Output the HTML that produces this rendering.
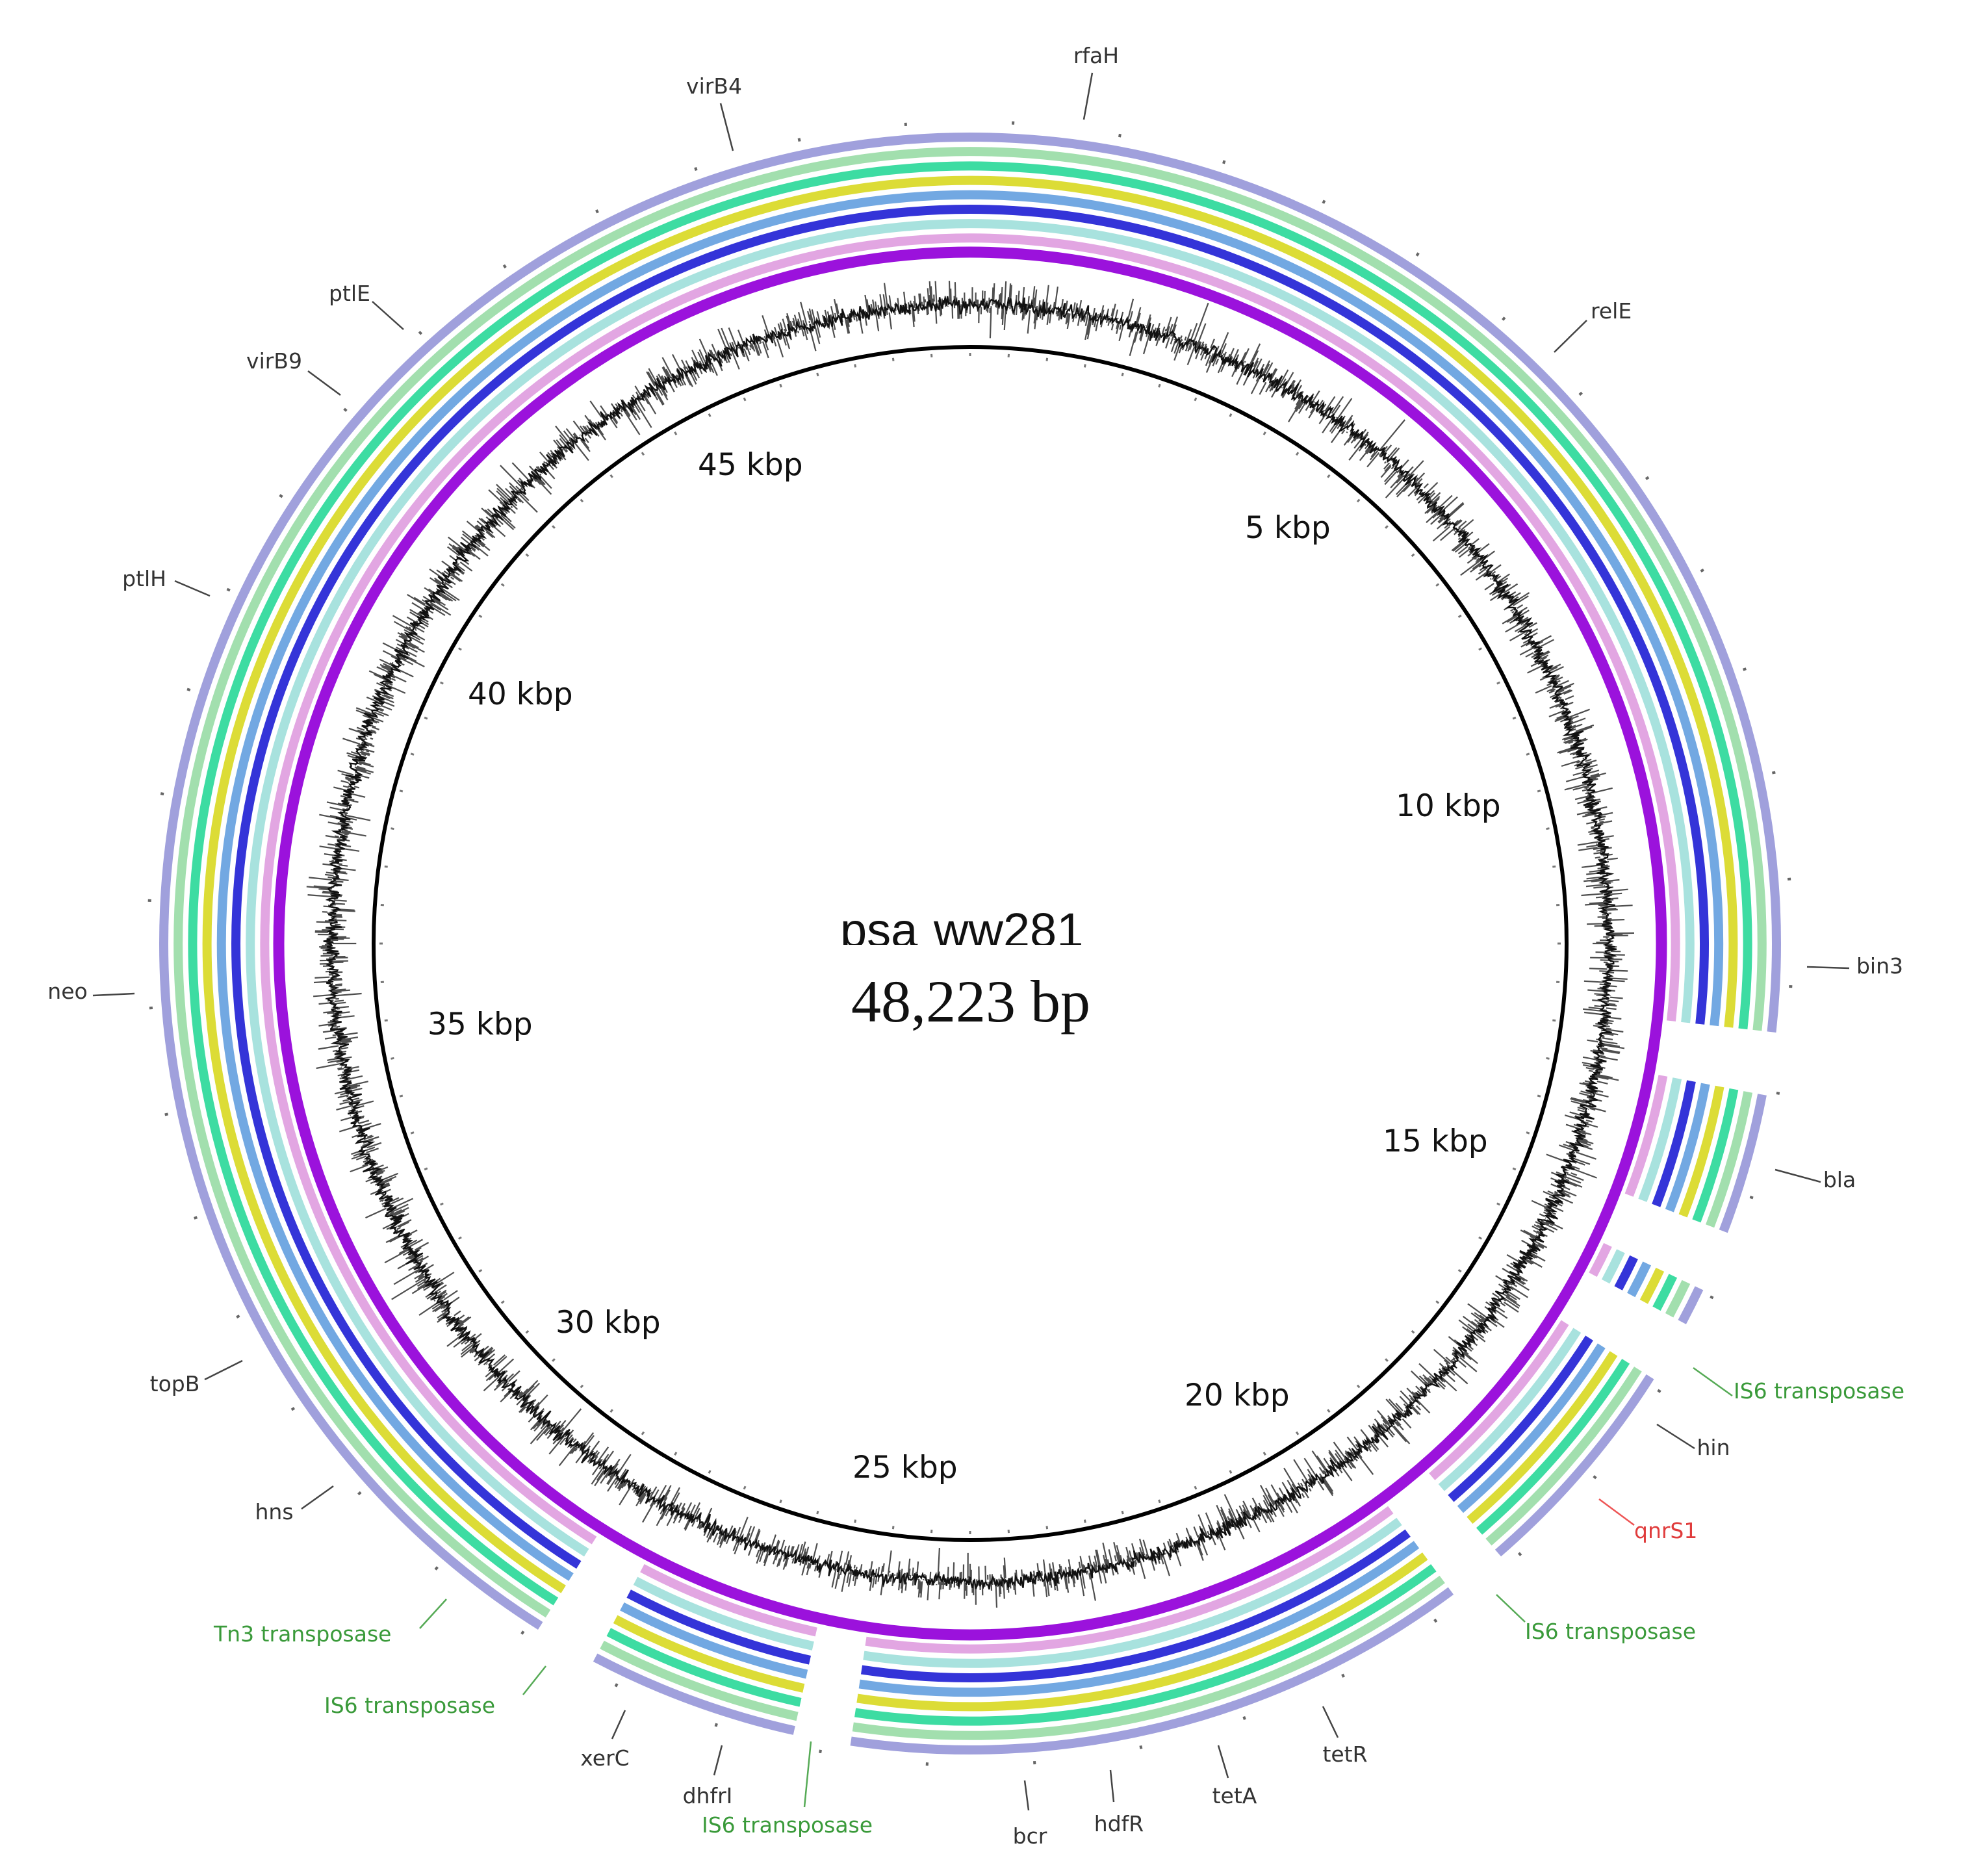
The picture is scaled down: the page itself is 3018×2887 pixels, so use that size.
<!DOCTYPE html>
<html><head><meta charset="utf-8"><style>
html,body{margin:0;padding:0;background:#fff;}
svg{display:block}
.l{font-family:"DejaVu Sans","Liberation Sans",sans-serif;font-size:33px;fill:#333}
.g{fill:#3a9a3a}
.k{font-family:"DejaVu Sans","Liberation Sans",sans-serif;font-size:47px;fill:#111}
.ln{stroke:#444;stroke-width:2.5;fill:none}
</style></head><body>
<svg id="s" width="3018" height="2887" viewBox="0 0 3018 2887" xmlns="http://www.w3.org/2000/svg">
<defs><clipPath id="cp"><rect x="1200" y="1380" width="600" height="74"/></clipPath></defs>
<g id="rings"></g>
<g id="gc"></g>
<circle cx="1493" cy="1452" r="918" fill="none" stroke="#000" stroke-width="6"/>
<g id="ticks"></g>
<g clip-path="url(#cp)" style="font-family:'Liberation Sans',sans-serif;font-size:74px;fill:#111">
<text x="1293" y="1457">psa</text>
<text x="1437" y="1457">ww281</text>
</g>
<text x="1494" y="1572" text-anchor="middle" style="font-family:'Liberation Serif',serif;font-size:92px;fill:#111">48,223 bp</text>
<text class="k" x="1074" y="731">45 kbp</text>
<text class="k" x="1916" y="828">5 kbp</text>
<text class="k" x="720" y="1084">40 kbp</text>
<text class="k" x="2148" y="1256">10 kbp</text>
<text class="k" x="658" y="1592">35 kbp</text>
<text class="k" x="2128" y="1772">15 kbp</text>
<text class="k" x="855" y="2051">30 kbp</text>
<text class="k" x="1823" y="2163">20 kbp</text>
<text class="k" x="1312" y="2274">25 kbp</text>
<line class="ln" x1="1681" y1="112" x2="1668" y2="184"/><text class="l" x="1687" y="97" text-anchor="middle">rfaH</text>
<line class="ln" x1="1109" y1="159" x2="1128" y2="232"/><text class="l" x="1099" y="144" text-anchor="middle">virB4</text>
<line class="ln" x1="2442" y1="493" x2="2392" y2="542"/><text class="l" x="2448" y="490">relE</text>
<line class="ln" x1="573" y1="464" x2="621" y2="507"/><text class="l" x="538" y="463" text-anchor="middle">ptlE</text>
<line class="ln" x1="474" y1="571" x2="524" y2="608"/><text class="l" x="422" y="567" text-anchor="middle">virB9</text>
<line class="ln" x1="269" y1="894" x2="323" y2="917"/><text class="l" x="222" y="902" text-anchor="middle">ptlH</text>
<line class="ln" x1="143" y1="1532" x2="207" y2="1529"/><text class="l" x="104" y="1537" text-anchor="middle">neo</text>
<line class="ln" x1="2781" y1="1488" x2="2846" y2="1490"/><text class="l" x="2893" y="1498" text-anchor="middle">bin3</text>
<line class="ln" x1="2732" y1="1800" x2="2802" y2="1819"/><text class="l" x="2831" y="1827" text-anchor="middle">bla</text>
<line class="ln" x1="2606" y1="2105" x2="2666" y2="2148" style="stroke:#5a5"/><text class="l g" x="2668" y="2152">IS6 transposase</text>
<line class="ln" x1="2550" y1="2192" x2="2608" y2="2229"/><text class="l" x="2637" y="2239" text-anchor="middle">hin</text>
<line class="ln" x1="2461" y1="2307" x2="2515" y2="2347" style="stroke:#e55"/><text class="l" x="2515" y="2367" style="fill:#e03c3c">qnrS1</text>
<line class="ln" x1="2303" y1="2454" x2="2347" y2="2496" style="stroke:#5a5"/><text class="l g" x="2347" y="2522">IS6 transposase</text>
<line class="ln" x1="2036" y1="2626" x2="2059" y2="2674"/><text class="l" x="2070" y="2711" text-anchor="middle">tetR</text>
<line class="ln" x1="1875" y1="2686" x2="1890" y2="2736"/><text class="l" x="1900" y="2775" text-anchor="middle">tetA</text>
<line class="ln" x1="1709" y1="2724" x2="1714" y2="2773"/><text class="l" x="1722" y="2818" text-anchor="middle">hdfR</text>
<line class="ln" x1="1577" y1="2740" x2="1583" y2="2786"/><text class="l" x="1585" y="2837" text-anchor="middle">bcr</text>
<line class="ln" x1="1248" y1="2680" x2="1238" y2="2781" style="stroke:#5a5"/><text class="l g" x="1080" y="2820">IS6 transposase</text>
<line class="ln" x1="1111" y1="2686" x2="1099" y2="2732"/><text class="l" x="1089" y="2775" text-anchor="middle">dhfrI</text>
<line class="ln" x1="962" y1="2632" x2="942" y2="2676"/><text class="l" x="931" y="2717" text-anchor="middle">xerC</text>
<line class="ln" x1="840" y1="2564" x2="805" y2="2608" style="stroke:#5a5"/><text class="l g" x="499" y="2636">IS6 transposase</text>
<line class="ln" x1="687" y1="2461" x2="646" y2="2506" style="stroke:#5a5"/><text class="l g" x="329" y="2526">Tn3 transposase</text>
<line class="ln" x1="513" y1="2287" x2="464" y2="2322"/><text class="l" x="422" y="2338" text-anchor="middle">hns</text>
<line class="ln" x1="373" y1="2094" x2="315" y2="2123"/><text class="l" x="269" y="2141" text-anchor="middle">topB</text>
</svg>
<script>
(function(){
var cx=1493,cy=1452;
function pt(r,a){var t=a*Math.PI/180;return [cx+r*Math.sin(t),cy-r*Math.cos(t)];}
function arc(r,a1,a2){var p=pt(r,a1),q=pt(r,a2);var large=(a2-a1)>180?1:0;
return "M"+p[0].toFixed(1)+" "+p[1].toFixed(1)+" A"+r+" "+r+" 0 "+large+" 1 "+q[0].toFixed(1)+" "+q[1].toFixed(1);}
var cols=["#a0a0dc","#a2dfae","#3ddca2","#dcdc36","#72a8e2","#3434d8","#a8e2de","#e2a6e2"];
var segs=[[122.5,139.1],[143.4,188.5],[192.6,207.7],[212.2,456.3],[100.8,110.9],[115.3,118.0]];
var s="";
for(var i=0;i<8;i++){var r=1241-i*22.2;
for(var j=0;j<segs.length;j++){s+='<path d="'+arc(r,segs[j][0],segs[j][1])+'" stroke="'+cols[i]+'" stroke-width="14" fill="none"/>';}}
s+='<circle cx="'+cx+'" cy="'+cy+'" r="1064" fill="none" stroke="#9b12dc" stroke-width="17"/>';
document.getElementById("rings").innerHTML=s;
var seed=7;function rnd(){seed=(seed*16807)%2147483647;return seed/2147483647;}
function gauss(){return (rnd()+rnd()+rnd()+rnd()-2)/2;}
var d="",n=3600,path="";
for(var k=0;k<n;k++){var a=k*360/n;var v=gauss()*55;if(rnd()<0.05)v*=1.5;
if(v>70)v=70;if(v<-70)v=-70;
var base=983+gauss()*10;
var p=pt(base,a),q=pt(base+v,a);d+="M"+p[0].toFixed(1)+" "+p[1].toFixed(1)+"L"+q[0].toFixed(1)+" "+q[1].toFixed(1);
var w=pt(983+gauss()*20,a);path+=(k?"L":"M")+w[0].toFixed(1)+" "+w[1].toFixed(1);}
document.getElementById("gc").innerHTML='<path d="'+d+'" stroke="#222" stroke-width="2.2" fill="none" opacity="0.8"/><path d="'+path+'Z" stroke="#111" stroke-width="2.4" fill="none"/>';
var t="";
for(var k=0;k<48;k++){var a=k*7.5+3;var p=pt(1262,a),q=pt(1267,a);
t+='<line x1="'+p[0].toFixed(1)+'" y1="'+p[1].toFixed(1)+'" x2="'+q[0].toFixed(1)+'" y2="'+q[1].toFixed(1)+'" stroke="#666" stroke-width="4"/>';}
for(var k=0;k<96;k++){var a=k*3.75;var p2=pt(904,a),q2=pt(909,a);
t+='<line x1="'+p2[0].toFixed(1)+'" y1="'+p2[1].toFixed(1)+'" x2="'+q2[0].toFixed(1)+'" y2="'+q2[1].toFixed(1)+'" stroke="#777" stroke-width="3"/>';}
document.getElementById("ticks").innerHTML=t;
})();
</script>
</body></html>
